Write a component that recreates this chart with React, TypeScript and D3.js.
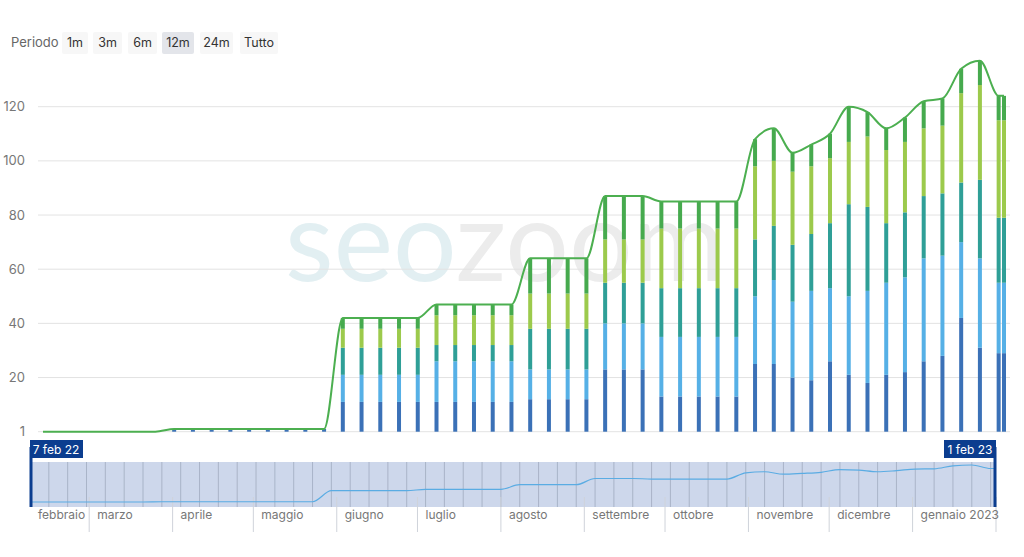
import * as d3 from 'd3';

// weekly snapshots (Mondays) + last point on 1 feb 23
const weeks = [
  '2022-02-07', '2022-02-14', '2022-02-21', '2022-02-28', '2022-03-07', '2022-03-14', '2022-03-21', '2022-03-28',
  '2022-04-04', '2022-04-11', '2022-04-18', '2022-04-25', '2022-05-02', '2022-05-09', '2022-05-16', '2022-05-23',
  '2022-05-30', '2022-06-06', '2022-06-13', '2022-06-20', '2022-06-27', '2022-07-04', '2022-07-11', '2022-07-18',
  '2022-07-25', '2022-08-01', '2022-08-08', '2022-08-15', '2022-08-22', '2022-08-29', '2022-09-05', '2022-09-12',
  '2022-09-19', '2022-09-26', '2022-10-03', '2022-10-10', '2022-10-17', '2022-10-24', '2022-10-31', '2022-11-07',
  '2022-11-14', '2022-11-21', '2022-11-28', '2022-12-05', '2022-12-12', '2022-12-19', '2022-12-26', '2023-01-02',
  '2023-01-09', '2023-01-16', '2023-01-23', '2023-01-30', '2023-02-01',
];

// stacked series, bottom to top
const pos1_3 = [
  0, 0, 0, 0, 0, 0, 0, 1, 1, 1, 1, 1, 1, 1, 1, 1,
  11, 11, 11, 11, 11, 11, 11, 11, 11, 11, 12, 12, 12, 12, 23, 23, 23,
  13, 13, 13, 13, 13, 25, 25, 20, 19, 26, 21, 18, 21, 22, 26, 28, 42, 31, 29, 29,
];
const pos4_10 = [
  0, 0, 0, 0, 0, 0, 0, 0, 0, 0, 0, 0, 0, 0, 0, 0,
  10, 10, 10, 10, 10, 15, 15, 15, 15, 15, 11, 11, 11, 11, 17, 17, 17,
  22, 22, 22, 22, 22, 25, 31, 28, 33, 27, 29, 34, 34, 35, 38, 37, 28, 33, 26, 26,
];
const pos11_20 = [
  0, 0, 0, 0, 0, 0, 0, 0, 0, 0, 0, 0, 0, 0, 0, 0,
  10, 10, 10, 10, 10, 6, 6, 6, 6, 6, 15, 15, 15, 15, 15, 15, 15,
  18, 18, 18, 18, 18, 21, 20, 21, 21, 24, 34, 31, 22, 24, 23, 23, 22, 29, 24, 24,
];
const pos21_50 = [
  0, 0, 0, 0, 0, 0, 0, 0, 0, 0, 0, 0, 0, 0, 0, 0,
  7, 7, 7, 7, 7, 11, 11, 11, 11, 11, 13, 13, 13, 13, 16, 16, 16,
  22, 22, 22, 22, 22, 27, 24, 27, 25, 24, 23, 26, 27, 26, 25, 25, 33, 35, 36, 36,
];
const pos51_100 = [
  0, 0, 0, 0, 0, 0, 0, 0, 0, 0, 0, 0, 0, 0, 0, 0,
  4, 4, 4, 4, 4, 4, 4, 4, 4, 4, 13, 13, 13, 13, 16, 16, 16,
  10, 10, 10, 10, 10, 10, 12, 7, 8, 9, 13, 9, 8, 9, 10, 10, 9, 9, 9, 9,
];

const seriesKeys = ['pos1_3', 'pos4_10', 'pos11_20', 'pos21_50', 'pos51_100'];
const seriesColors = ['#3b71b7', '#56b0e6', '#2f9f97', '#9cca4c', '#46aa4e'];

const yTicks = [0, 20, 40, 60, 80, 100, 120];
const periodButtons = ['1m', '3m', '6m', '12m', '24m', 'Tutto'];
const monthLabels = ['febbraio', 'marzo', 'aprile', 'maggio', 'giugno', 'luglio', 'agosto',
  'settembre', 'ottobre', 'novembre', 'dicembre', 'gennaio 2023'];
const monthStarts = ['2022-02-01', '2022-03-01', '2022-04-01', '2022-05-01', '2022-06-01', '2022-07-01',
  '2022-08-01', '2022-09-01', '2022-10-01', '2022-11-01', '2022-12-01', '2023-01-01', '2023-02-01'];

const FONT = 'Inter, "Liberation Sans", sans-serif';

export default function App() {
  const W = 1024, H = 557;
  const parse = d3.timeParse('%Y-%m-%d');
  const dates = weeks.map(w => parse(w) as Date);
  const cols = [pos1_3, pos4_10, pos11_20, pos21_50, pos51_100];
  const rows = dates.map((d, i) => {
    const r: any = { date: d };
    seriesKeys.forEach((k, j) => { r[k] = cols[j][i]; });
    return r;
  });
  const stack = d3.stack().keys(seriesKeys)(rows);
  const totals = rows.map(r => d3.sum(seriesKeys, k => r[k]));

  const x = d3.scaleTime().domain([dates[0], dates[dates.length - 1]]).range([43, 1004]);
  const y = d3.scaleLinear().domain([0, 120]).range([431.7, 106.7]);

  const line = d3.line<number>()
    .x((_, i) => x(dates[i]))
    .y(v => y(v))
    .curve(d3.curveMonotoneX);

  // navigator
  const nx = d3.scaleTime().domain([dates[0], dates[dates.length - 1]]).range([30, 996]);
  const ny = d3.scaleLinear().domain([0, d3.max(totals) as number]).range([502, 465]);
  const navLine = d3.line<number>()
    .x((_, i) => nx(dates[i]))
    .y(v => ny(v))
    .curve(d3.curveMonotoneX);
  const navTop = 462, navBottom = 507;
  const mondays = dates.slice(1, 52);
  const mStarts = monthStarts.map(m => parse(m) as Date);

  // buttons layout
  const btnX = [62, 93, 128, 162, 200, 240];
  const btnW = [26, 29, 29, 32, 33, 38];

  return (
    <svg width={W} height={H} style={{ position: 'absolute', left: 0, top: 0, background: '#fff' }}
      fontFamily={FONT}>
      <rect width={W} height={H} fill="#fff" />

      {/* period selector */}
      <text x={11} y={47} fontSize={13} fill="#666">Periodo</text>
      {periodButtons.map((b, i) => (
        <g key={b}>
          <rect x={btnX[i]} y={32} width={btnW[i]} height={22} rx={2}
            fill={b === '12m' ? '#e3e5ea' : '#f7f7f7'} />
          <text x={btnX[i] + btnW[i] / 2} y={47} fontSize={12.5} fill="#333" textAnchor="middle">{b}</text>
        </g>
      ))}

      {/* watermark */}
      <text x={285} y={281} fontSize={112} fontFamily="Lato, sans-serif" textLength={440}
        lengthAdjust="spacingAndGlyphs">
        <tspan fill="#e2eff2">seo</tspan><tspan fill="#ececec">zoom</tspan>
      </text>

      {/* grid + y labels */}
      {yTicks.map(t => (
        <g key={t}>
          <line x1={38} x2={1010} y1={y(t)} y2={y(t)} stroke="#e3e3e3" strokeWidth={1} />
          <text x={25} y={y(t) + 4.5} fontSize={13} fill="#777" textAnchor="end">{t === 0 ? '1' : t}</text>
        </g>
      ))}

      {/* stacked bars */}
      {stack.map((s, si) => (
        <g key={seriesKeys[si]} fill={seriesColors[si]}>
          {s.map((d, i) => {
            const h = y(d[0]) - y(d[1]);
            if (h <= 0) return null;
            return <rect key={i} x={x(dates[i]) - 2} y={y(d[1])} width={4} height={h} />;
          })}
        </g>
      ))}

      {/* total line */}
      <path d={line(totals) || ''} fill="none" stroke="#4caf50" strokeWidth={2} />

      {/* navigator */}
      <rect x={30} y={navTop} width={966} height={navBottom - navTop} fill="rgba(102,133,194,0.33)" />
      {mondays.map((d, i) => (
        <line key={i} x1={nx(d)} x2={nx(d)} y1={navTop} y2={navBottom} stroke="#8d97ab" strokeOpacity={0.55} />
      ))}
      {mStarts.slice(1).map((d, i) => (
        <line key={i} x1={nx(d)} x2={nx(d)} y1={497} y2={532} stroke="#cfd3da" />
      ))}
      <path d={navLine(totals) || ''} fill="none" stroke="#5aace3" strokeWidth={1.2} />
      {monthLabels.map((m, i) => (
        <text key={m} x={i === 0 ? 38 : nx(mStarts[i]) + 8} y={519} fontSize={12} fill="#777">{m}</text>
      ))}

      {/* handles */}
      <line x1={31} x2={31} y1={447} y2={navBottom} stroke="#0b3d8f" strokeWidth={3} />
      <rect x={30} y={440} width={53} height={18} fill="#0b3d8f" />
      <text x={56} y={453.5} fontSize={12} fill="#fff" textAnchor="middle">7 feb 22</text>
      <line x1={995} x2={995} y1={447} y2={navBottom} stroke="#0b3d8f" strokeWidth={3} />
      <rect x={944} y={440} width={52} height={18} fill="#0b3d8f" />
      <text x={970} y={453.5} fontSize={12} fill="#fff" textAnchor="middle">1 feb 23</text>
    </svg>
  );
}
